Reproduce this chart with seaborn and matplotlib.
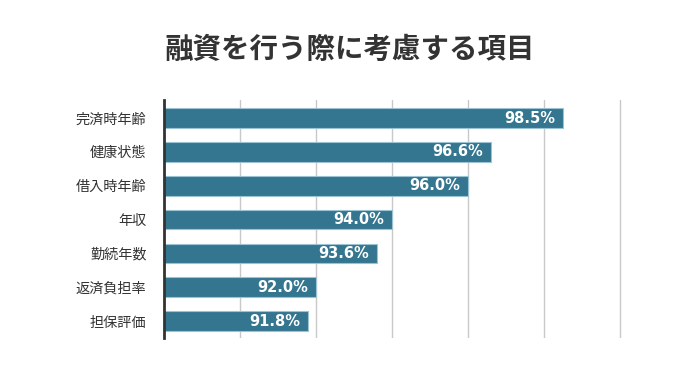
import matplotlib
matplotlib.use('Agg')
import matplotlib.pyplot as plt
import seaborn as sns
import pandas as pd

items = ['完済時年齢', '健康状態', '借入時年齢', '年収', '勤続年数', '返済負担率', '担保評価']
rates = [98.5, 96.6, 96.0, 94.0, 93.6, 92.0, 91.8]
grid_ticks = [88, 90, 92, 94, 96, 98, 100]

df = pd.DataFrame({'item': items, 'rate': rates})

sns.set_style('white')
plt.rcParams['font.family'] = ['Noto Sans CJK JP', 'DejaVu Sans']

fig = plt.figure(figsize=(7, 3.66), dpi=100)
ax = fig.add_axes([0.234, 0.0765, 0.655, 0.65])

sns.barplot(data=df, x='rate', y='item', orient='h', color='#34758f',
            saturation=1, width=0.58, edgecolor='#9cc3d3', linewidth=0.8, ax=ax)

ax.set_xlim(88, 100.05)
ax.set_ylim(6.5, -0.53)
ax.set_xticks(grid_ticks)
ax.xaxis.grid(True, color='#c8c8c8', linewidth=1)
ax.set_axisbelow(True)
ax.tick_params(axis='x', bottom=False, labelbottom=False)
ax.tick_params(axis='y', left=False, labelsize=10.2, labelcolor='#333333', pad=9)
ax.set_xlabel('')
ax.set_ylabel('')
for s in ['top', 'right', 'bottom']:
    ax.spines[s].set_visible(False)
ax.spines['left'].set_color('#333333')
ax.spines['left'].set_linewidth(2)

for i, v in enumerate(rates):
    ax.annotate(f'{v:.1f}%', xy=(v, i), xytext=(-6, 0), textcoords='offset points',
                ha='right', va='center', color='white', fontsize=10.5,
                fontweight='bold', family=['DejaVu Sans'])

fig.text(0.5, 0.863, '融資を行う際に考慮する項目', ha='center', va='center',
         fontsize=20.5, fontweight='bold', color='#333333')

fig.savefig('out.png', dpi=100, facecolor='white')
